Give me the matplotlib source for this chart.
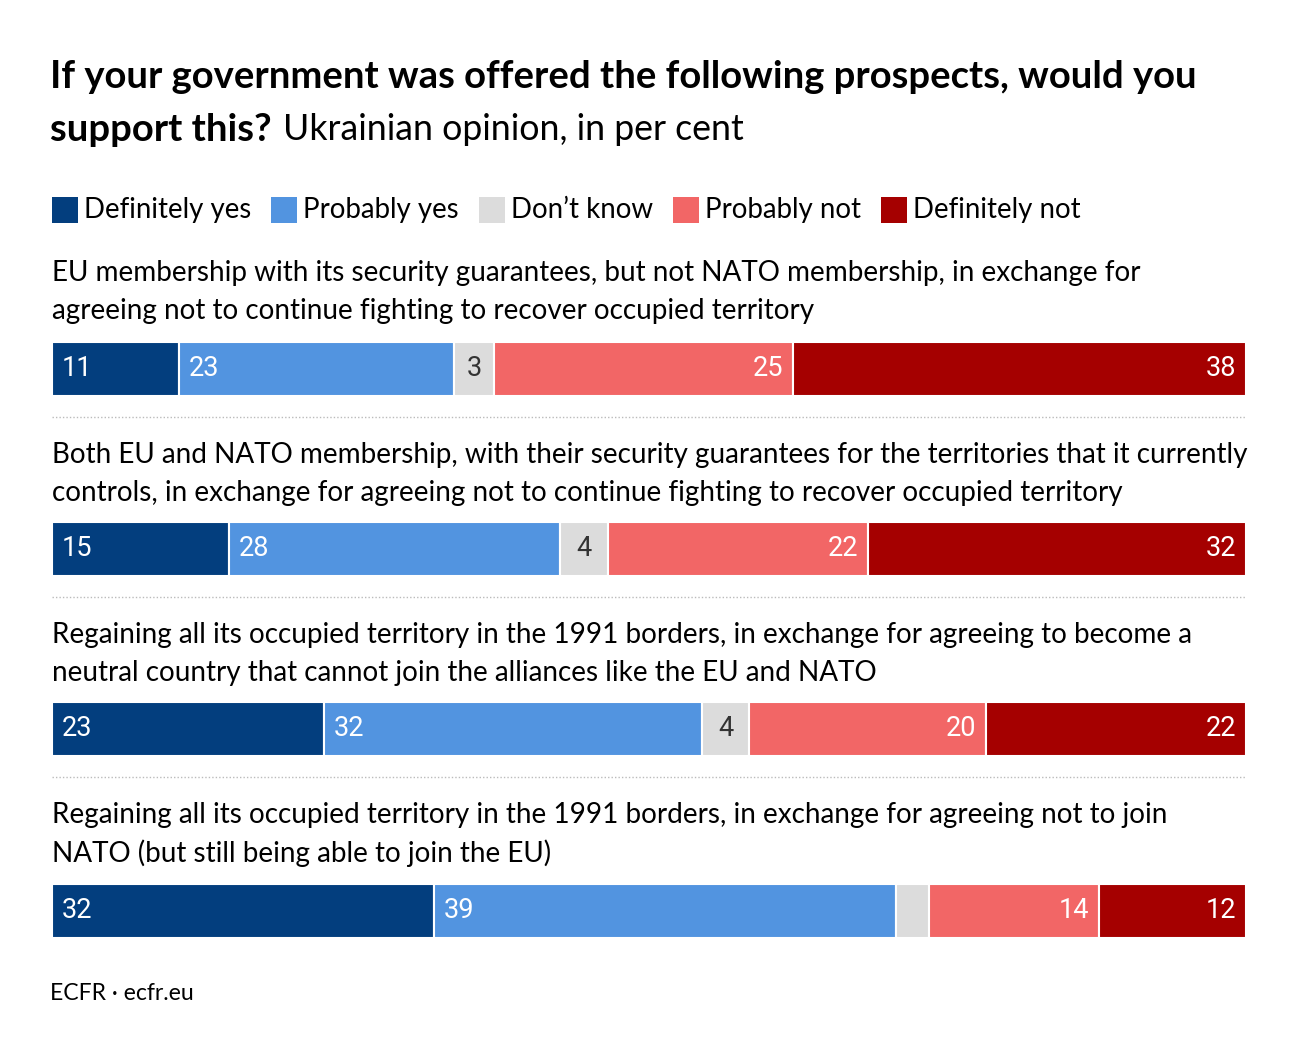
import matplotlib
matplotlib.use("Agg")
import matplotlib.pyplot as plt
from matplotlib.patches import Rectangle

categories = ["Definitely yes", "Probably yes", "Don\u2019t know", "Probably not", "Definitely not"]
questions = [
    "EU membership with its security guarantees, but not NATO membership, in exchange for\nagreeing not to continue fighting to recover occupied territory",
    "Both EU and NATO membership, with their security guarantees for the territories that it currently\ncontrols, in exchange for agreeing not to continue fighting to recover occupied territory",
    "Regaining all its occupied territory in the 1991 borders, in exchange for agreeing to become a\nneutral country that cannot join the alliances like the EU and NATO",
    "Regaining all its occupied territory in the 1991 borders, in exchange for agreeing not to join\nNATO (but still being able to join the EU)",
]
definitely_yes = [10.6, 15, 23, 32]
probably_yes = [23, 28, 32, 38.6]
dont_know = [3.3, 4, 4, 2.8]
probably_not = [25, 22, 20, 14.2]
definitely_not = [37.8, 32, 22, 12.3]

colors = ["#033E7E", "#5294E0", "#DCDCDC", "#F26666", "#A50000"]
label_colors = ["white", "white", "#333333", "white", "white"]
aligns = ["left", "left", "center", "right", "right"]

W, H = 1300, 1060
fig = plt.figure(figsize=(W / 100, H / 100), dpi=100)
TF = "Lato"
NF = "Roboto"

def fx(px):
    return px / W

def fy(py):
    return 1 - py / H

# Title
fig.text(fx(50), fy(77), "If your government was offered the following prospects, would you",
         fontsize=27.5, fontweight="bold", family=TF, va="center", ha="left")
t = fig.text(fx(50), fy(130), "support this?", fontsize=27.5, fontweight="bold", family=TF,
             va="center", ha="left")
fig.canvas.draw()
bb = t.get_window_extent()
fig.text(bb.x1 / W + fx(11), fy(130), "Ukrainian opinion, in per cent", fontsize=25.7, family=TF,
         va="center", ha="left")

# Legend
x = 52
for c, col in zip(categories, colors):
    fig.patches.append(Rectangle((fx(x), fy(223)), fx(26), 26 / H, transform=fig.transFigure,
                                 facecolor=col, edgecolor="none"))
    tt = fig.text(fx(x + 32), fy(210), c, fontsize=19.9, family=TF, va="center", ha="left")
    fig.canvas.draw()
    x = tt.get_window_extent().x1 + 20

rows = list(zip(definitely_yes, probably_yes, dont_know, probably_not, definitely_not))
bar_tops = [342, 522, 702, 884]
text_tops = [273, 455, 635, 815]
sep_y = [417, 597, 777]
bar_h = 54
x0, x1 = 52, 1246

for i, (vals, q) in enumerate(zip(rows, questions)):
    lines = q.split("\n")
    for j, ln in enumerate(lines):
        fig.text(fx(52), fy(text_tops[i] + j * 38), ln, fontsize=20.1, family=TF,
                 va="center", ha="left")
    ax = fig.add_axes([fx(x0), fy(bar_tops[i] + bar_h), fx(x1 - x0), bar_h / H])
    total = sum(vals)
    left = 0
    for k, v in enumerate(vals):
        ax.barh(0, v, left=left, height=1, color=colors[k], edgecolor="white", linewidth=1.5)
        if v >= 3:
            if aligns[k] == "left":
                tx = left + 0.8
            elif aligns[k] == "right":
                tx = left + v - 0.8
            else:
                tx = left + v / 2
            ax.text(tx, 0, f"{round(v)}", color=label_colors[k], fontsize=19.5, family=NF,
                    ha=aligns[k], va="center")
        left += v
    ax.set_xlim(0, total)
    ax.set_ylim(-0.5, 0.5)
    ax.axis("off")

for y in sep_y:
    fig.add_artist(plt.Line2D([fx(52), fx(1246)], [fy(y), fy(y)], transform=fig.transFigure,
                              color="#BBBBBB", linewidth=1, linestyle=(0, (1, 1.5))))

fig.text(fx(50), fy(993), "ECFR \u00b7 ecfr.eu", fontsize=16.6, family=TF, va="center", ha="left")

fig.savefig("out.png", dpi=100, facecolor="white")
